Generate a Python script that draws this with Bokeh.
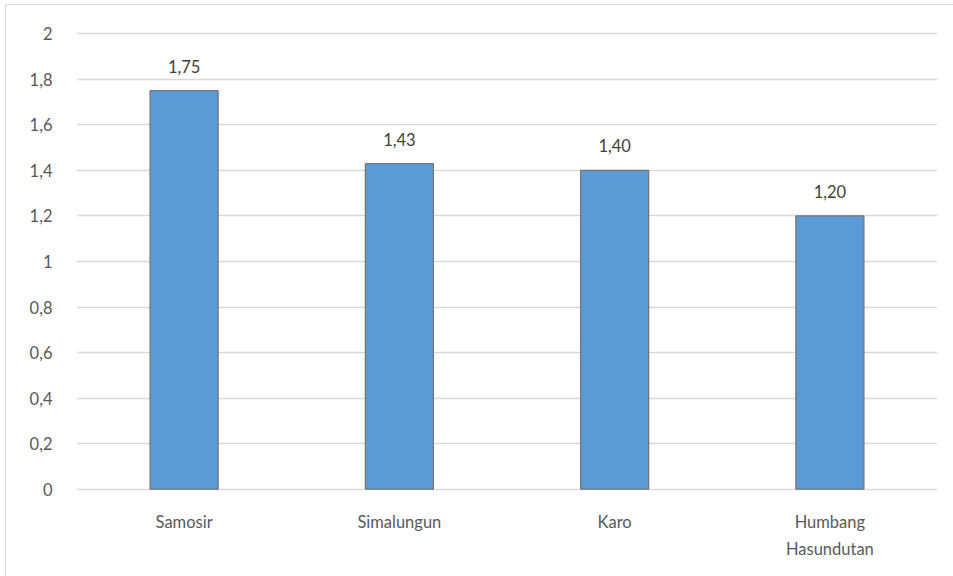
from bokeh.plotting import figure
from bokeh.models import ColumnDataSource, FixedTicker, LabelSet, Range1d
from bokeh.core.properties import value
from bokeh.embed import file_html
from bokeh.resources import INLINE

# Regencies and their values
categories = ["Samosir", "Simalungun", "Karo", "Humbang\nHasundutan"]
values = [1.75, 1.43, 1.40, 1.20]
value_labels = ["1,75", "1,43", "1,40", "1,20"]

# Y axis ticks with comma decimals
y_ticks = [0, 0.2, 0.4, 0.6, 0.8, 1.0, 1.2, 1.4, 1.6, 1.8, 2.0]
y_tick_labels = ["0", "0,2", "0,4", "0,6", "0,8", "1", "1,2", "1,4", "1,6", "1,8", "2"]

FONT = "Lato"
TEXT = "#595959"
GRID = "#d9d9d9"

source = ColumnDataSource(dict(cat=categories, val=values, lab=value_labels))

p = figure(
    x_range=categories, y_range=Range1d(-0.01, 2.01),
    width=948, height=572,
    output_backend="svg", toolbar_location=None,
    min_border_left=70, min_border_right=17,
    min_border_top=26, min_border_bottom=86,
)
p.outline_line_color = None
p.background_fill_color = "white"
p.border_fill_color = "white"
# light frame around the chart
p.styles = {"border-left": "1.5px solid #d9d9d9", "border-top": "1.5px solid #d9d9d9",
            "margin-left": "5px", "margin-top": "4px"}

p.vbar(x="cat", top="val", width=0.316, source=source,
       fill_color="#5b9bd5", line_color="#767676", line_width=1.3)

labels = LabelSet(x="cat", y="val", text="lab", source=source,
                  text_align="center", text_baseline="bottom", y_offset=18,
                  text_font=value(FONT), text_font_size="16.5px", text_color="#404040")
p.add_layout(labels)

# Axes
p.yaxis.ticker = FixedTicker(ticks=y_ticks)
p.yaxis.major_label_overrides = {t: l for t, l in zip(y_ticks, y_tick_labels)}
for ax in (p.xaxis, p.yaxis):
    ax.axis_line_color = None
    ax.major_tick_line_color = None
    ax.minor_tick_line_color = None
    ax.major_label_text_font = FONT
    ax.major_label_text_font_size = "16.5px"
    ax.major_label_text_color = TEXT
p.yaxis.major_label_standoff = 18
p.xaxis.major_label_standoff = 14
p.xaxis.major_label_text_line_height = 1.35

p.xgrid.grid_line_color = None
p.ygrid.grid_line_color = GRID
p.ygrid.grid_line_width = 1.3
p.ygrid.ticker = FixedTicker(ticks=y_ticks)

open("out.html", "w").write(file_html(p, INLINE))
